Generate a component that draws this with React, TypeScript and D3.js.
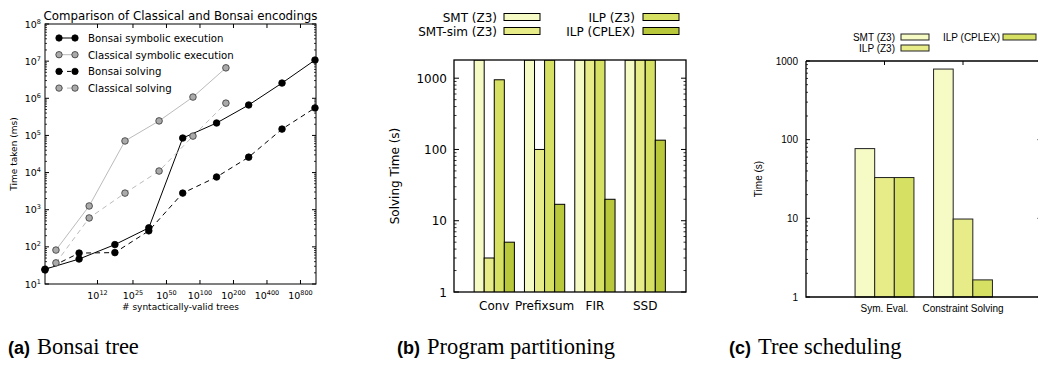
import React from 'react';
import * as d3 from 'd3';

// ---- panel (a): Bonsai tree (x = exponent of the number of trees) ----
const bonsaiX = [4.05, 8.2, 17.2, 34.7, 70, 141, 274, 546, 1080];
const classicalX = [5.08, 10.1, 21.2, 42.9, 86.5, 171];
const bonsaiSymExec = [25, 47, 115, 325, 85000, 216000, 660000, 2570000, 10700000];
const bonsaiSolving = [24, 68, 70, 270, 2800, 7600, 26000, 148000, 550000];
const classicalSymExec = [82, 1260, 71000, 246000, 1080000, 6600000];
const classicalSolving = [37, 600, 2800, 11000, 96000, 740000];
const aXTicks = [12, 25, 50, 100, 200, 400, 800];
const aYTicks = [1, 2, 3, 4, 5, 6, 7, 8];

// ---- panel (b): Program partitioning ----
const bGroups = ['Conv', 'Prefixsum', 'FIR', 'SSD'];
const bSmtZ3 = [1800, 1800, 1800, 1800];
const bSmtSimZ3 = [3, 100, 1800, 1800];
const bIlpZ3 = [950, 1800, 1800, 1800];
const bIlpCplex = [5, 17, 20, 135];
const bYTicks = [1, 10, 100, 1000];

// ---- panel (c): Tree scheduling ----
const cGroups = ['Sym. Eval.', 'Constraint Solving'];
const cSmtZ3 = [77, 790];
const cIlpZ3 = [33, 9.8];
const cIlpCplex = [33, 1.65];
const cYTicks = [1, 10, 100, 1000];

const C1 = '#f6fac4';
const C2 = '#e8ec88';
const C3 = '#d6e062';
const C4 = '#b9c83a';

const minorLog = (lo: number, hi: number) => {
  const out: number[] = [];
  for (let d = lo; d < hi; d *= 10) for (let k = 2; k <= 9; k++) if (d * k < hi) out.push(d * k);
  return out;
};

const PanelA = () => {
  const L = 45, R = 316, T = 24, B = 284;
  const x = d3.scaleLog().base(2).domain([4.05, 1103]).range([L, R]);
  const y = d3.scaleLog().domain([10, 1e8]).range([B, T]);
  const line = (xs: number[], ys: number[]) =>
    d3.line<number>().x((_, i) => x(xs[i])).y(d => y(d))(ys) || '';
  const f = 'DejaVu Sans';
  const series = [
    { name: 'Bonsai symbolic execution', xs: bonsaiX, ys: bonsaiSymExec, stroke: '#000', fill: '#000', dash: '' },
    { name: 'Classical symbolic execution', xs: classicalX, ys: classicalSymExec, stroke: '#bbb', fill: '#aaa', dash: '' },
    { name: 'Bonsai solving', xs: bonsaiX, ys: bonsaiSolving, stroke: '#000', fill: '#000', dash: '5,4' },
    { name: 'Classical solving', xs: classicalX, ys: classicalSolving, stroke: '#bbb', fill: '#aaa', dash: '5,4' },
  ];
  const minors = minorLog(10, 1e8);
  return (
    <g fontFamily={f}>
      <text x={(L + R) / 2} y={19.5} fontSize={11.8} textAnchor="middle">Comparison of Classical and Bonsai encodings</text>
      <clipPath id="clipA"><rect x={L} y={T} width={R - L} height={B - T} /></clipPath>
      <g clipPath="url(#clipA)">
        {series.map(s => (
          <path key={s.name} d={line(s.xs, s.ys)} fill="none" stroke={s.stroke} strokeWidth={1} strokeDasharray={s.dash} />
        ))}
      </g>
      {series.map(s =>
        s.ys.map((v, i) => (
          <circle key={s.name + i} cx={x(s.xs[i])} cy={y(v)} r={3.3} fill={s.fill} stroke={s.fill === '#000' ? '#000' : '#333'} strokeWidth={0.8} />
        ))
      )}
      {aYTicks.map(e => (
        <g key={e}>
          <line x1={L} x2={L + 4} y1={y(10 ** e)} y2={y(10 ** e)} stroke="#000" />
          <line x1={R} x2={R - 4} y1={y(10 ** e)} y2={y(10 ** e)} stroke="#000" />
          <text x={L - 4} y={y(10 ** e) + 3.5} fontSize={9.5} textAnchor="end">
            10<tspan fontSize={6.5} dy={-4}>{e}</tspan>
          </text>
        </g>
      ))}
      {minors.map(v => (
        <g key={v}>
          <line x1={L} x2={L + 2} y1={y(v)} y2={y(v)} stroke="#000" strokeWidth={0.8} />
          <line x1={R} x2={R - 2} y1={y(v)} y2={y(v)} stroke="#000" strokeWidth={0.8} />
        </g>
      ))}
      {aXTicks.map(e => (
        <g key={e}>
          <line x1={x(e)} x2={x(e)} y1={B} y2={B - 4} stroke="#000" />
          <line x1={x(e)} x2={x(e)} y1={T} y2={T + 4} stroke="#000" />
          <text x={x(e)} y={B + 15} fontSize={9.5} textAnchor="middle">
            10<tspan fontSize={6.5} dy={-4}>{e}</tspan>
          </text>
        </g>
      ))}
      <rect x={L} y={T} width={R - L} height={B - T} fill="none" stroke="#000" strokeWidth={1} />
      <text x={(L + R) / 2} y={310} fontSize={9} textAnchor="middle"># syntactically-valid trees</text>
      <text transform={`translate(17,${(T + B) / 2}) rotate(-90)`} fontSize={9} textAnchor="middle">Time taken (ms)</text>
      {series.map((s, i) => {
        const ly = 38 + i * 16.7;
        return (
          <g key={s.name}>
            <line x1={59} x2={75} y1={ly} y2={ly} stroke={s.stroke} strokeDasharray={s.dash ? '4,4' : ''} />
            <circle cx={59} cy={ly} r={3.2} fill={s.fill} stroke={s.fill === '#000' ? '#000' : '#333'} strokeWidth={0.8} />
            <circle cx={75} cy={ly} r={3.2} fill={s.fill} stroke={s.fill === '#000' ? '#000' : '#333'} strokeWidth={0.8} />
            <text x={88} y={ly + 4} fontSize={10.2}>{s.name}</text>
          </g>
        );
      })}
    </g>
  );
};

const PanelB = () => {
  const L = 454, R = 686, T = 60, B = 292;
  const x = d3.scaleLinear().domain([-0.8, 3.81]).range([L, R]);
  const y = d3.scaleLog().domain([1, 1800]).range([B, T]);
  const bw = 0.2;
  const series = [
    { name: 'SMT (Z3)', vals: bSmtZ3, color: C1 },
    { name: 'SMT-sim (Z3)', vals: bSmtSimZ3, color: C2 },
    { name: 'ILP (Z3)', vals: bIlpZ3, color: C3 },
    { name: 'ILP (CPLEX)', vals: bIlpCplex, color: C4 },
  ];
  const minors = minorLog(1, 1800);
  const f = 'DejaVu Sans';
  return (
    <g fontFamily={f}>
      <clipPath id="clipB"><rect x={L} y={T} width={R - L} height={B - T} /></clipPath>
      <g clipPath="url(#clipB)">
        {series.map((s, si) =>
          s.vals.map((v, gi) => {
            const x0 = x(gi + (si - 2) * bw);
            const x1 = x(gi + (si - 1) * bw);
            return (
              <rect key={s.name + gi} x={x0} y={y(v)} width={x1 - x0} height={B - y(v) + 2}
                fill={s.color} stroke="#000" strokeWidth={1} />
            );
          })
        )}
      </g>
      {bYTicks.map(v => (
        <g key={v}>
          <line x1={L} x2={L + 5} y1={y(v)} y2={y(v)} stroke="#000" />
          <line x1={R} x2={R - 5} y1={y(v)} y2={y(v)} stroke="#000" />
          <text x={447} y={y(v) + 4.5} fontSize={12} textAnchor="end">{v}</text>
        </g>
      ))}
      {minors.map(v => (
        <g key={v}>
          <line x1={L} x2={L + 2.5} y1={y(v)} y2={y(v)} stroke="#000" strokeWidth={0.8} />
          <line x1={R} x2={R - 2.5} y1={y(v)} y2={y(v)} stroke="#000" strokeWidth={0.8} />
        </g>
      ))}
      <rect x={L} y={T} width={R - L} height={B - T} fill="none" stroke="#000" strokeWidth={1.3} />
      {bGroups.map((g, i) => (
        <text key={g} x={x(i)} y={310} fontSize={12} textAnchor="middle">{g}</text>
      ))}
      <text transform={`translate(399,${(T + B) / 2}) rotate(-90)`} fontSize={12} textAnchor="middle">Solving Time (s)</text>
      {series.map((s, i) => {
        const c = i < 2 ? 0 : 1;
        const r = i % 2;
        const tx = c === 0 ? 497 : 635;
        const bx = c === 0 ? 504 : 643;
        const cy = r === 0 ? 17 : 31;
        return (
          <g key={s.name}>
            <text x={tx} y={cy + 4.5} fontSize={12} textAnchor="end">{s.name}</text>
            <rect x={bx} y={cy - 3.5} width={36} height={7} fill={s.color} stroke="#000" strokeWidth={1} />
          </g>
        );
      })}
    </g>
  );
};

const PanelC = () => {
  const L = 806, R = 1041.5, T = 61, B = 297;
  const x = d3.scaleLinear().domain([-1, 2]).range([L, R]);
  const y = d3.scaleLog().domain([1, 1000]).range([B, T]);
  const bw = 0.25;
  const series = [
    { name: 'SMT (Z3)', vals: cSmtZ3, color: C1 },
    { name: 'ILP (Z3)', vals: cIlpZ3, color: C2 },
    { name: 'ILP (CPLEX)', vals: cIlpCplex, color: C3 },
  ];
  const minors = minorLog(1, 1000);
  const f = 'Liberation Sans';
  return (
    <g fontFamily={f}>
      {series.map((s, si) =>
        s.vals.map((v, gi) => {
          const x0 = x(gi + (si - 1.5) * bw);
          const x1 = x(gi + (si - 0.5) * bw);
          return (
            <rect key={s.name + gi} x={x0} y={y(v)} width={x1 - x0} height={B - y(v)}
              fill={s.color} stroke="#222" strokeWidth={1} />
          );
        })
      )}
      {cYTicks.map(v => (
        <g key={v}>
          <line x1={L} x2={L + 4} y1={y(v)} y2={y(v)} stroke="#000" />
          <line x1={R} x2={R - 4} y1={y(v)} y2={y(v)} stroke="#000" />
          <text x={798} y={y(v) + 3.5} fontSize={10} textAnchor="end">{v}</text>
        </g>
      ))}
      {minors.map(v => (
        <g key={v}>
          <line x1={L} x2={L + 2} y1={y(v)} y2={y(v)} stroke="#000" strokeWidth={0.8} />
          <line x1={R} x2={R - 2} y1={y(v)} y2={y(v)} stroke="#000" strokeWidth={0.8} />
        </g>
      ))}
      {cGroups.map((g, i) => (
        <g key={g}>
          <line x1={x(i)} x2={x(i)} y1={T} y2={T + 4} stroke="#000" />
          <text x={x(i)} y={312} fontSize={10} textAnchor="middle">{g}</text>
        </g>
      ))}
      <path d={`M${L},${T}H${R}M${L},${T}V${B}H${R}`} fill="none" stroke="#000" strokeWidth={1.3} />
      <line x1={R} x2={R} y1={T} y2={B} stroke="#000" strokeWidth={1.3} />
      <text transform={`translate(762,${(T + B) / 2}) rotate(-90)`} fontSize={10} textAnchor="middle">Time (s)</text>
      {series.map((s, i) => {
        const c = i < 2 ? 0 : 1;
        const cy = i === 1 ? 48 : 37;
        const tx = c === 0 ? 895 : 1000;
        const bx = c === 0 ? 901 : 1003;
        return (
          <g key={s.name}>
            <text x={tx} y={cy + 3.5} fontSize={10} textAnchor="end">{s.name}</text>
            <rect x={bx} y={cy - 3} width={c === 0 ? 28 : 33} height={6} fill={s.color} stroke="#222" strokeWidth={1} />
          </g>
        );
      })}
    </g>
  );
};

const Caption = ({ x, tag, text }: { x: number; tag: string; text: string }) => (
  <text x={x} y={354} fontSize={22.5}>
    <tspan fontFamily="Liberation Sans" fontWeight="bold" fontSize={18}>({tag})</tspan>
    <tspan fontFamily="Liberation Serif" dx={7}>{text}</tspan>
  </text>
);

export default function App() {
  return (
    <svg width={1038} height={365} style={{ position: 'absolute', left: 0, top: 0, background: '#fff' }}>
      <rect width={1038} height={365} fill="#fff" />
      <PanelA />
      <PanelB />
      <PanelC />
      <Caption x={8} tag="a" text="Bonsai tree" />
      <Caption x={397} tag="b" text="Program partitioning" />
      <Caption x={729} tag="c" text="Tree scheduling" />
    </svg>
  );
}
